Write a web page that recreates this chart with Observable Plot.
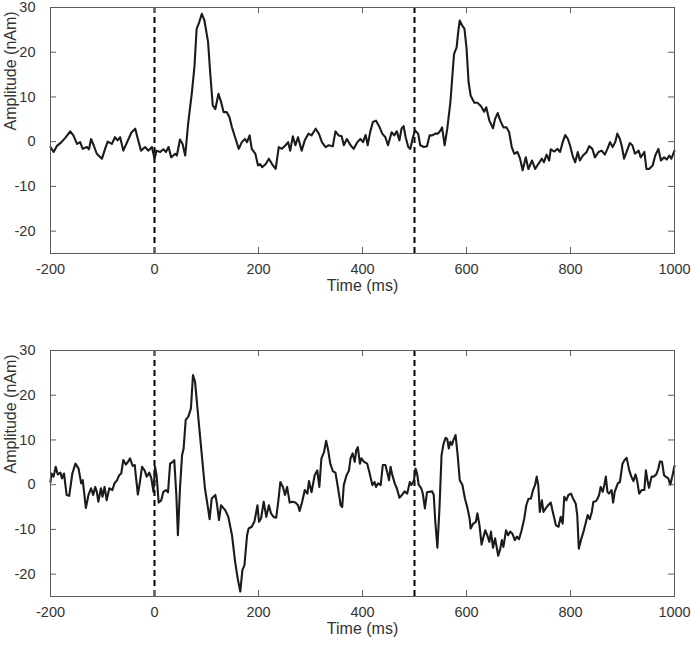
<!DOCTYPE html>
<html>
<head>
<meta charset="utf-8">
<script src="https://cdn.jsdelivr.net/npm/d3@7"></script>
<script src="https://cdn.jsdelivr.net/npm/@observablehq/plot@0.6"></script>
<style>
  html, body { margin: 0; padding: 0; background: #ffffff; }
  #chart svg { display: block; }
</style>
</head>
<body>
<div id="chart"></div>
<script>
// ---- tick labels & markers ----
const xTicks = [-200, 0, 200, 400, 600, 800, 1000];
const yTicks = [-20, -10, 0, 10, 20, 30];
const stimulusOnsets = [0, 500];
const xLabel = "Time (ms)";
const yLabel = "Amplitude (nAm)";

// ---- top panel waveform: [time (ms), amplitude (nAm)] ----
const topWave = [[-200,-1.2],[-194,-2.3],[-188,-1.0],[-179,-0.1],[-172,0.8],[-162,2.3],[-156,1.4],[-149,-0.5],[-143,-0.1],[-138,-1.6],[-130,-1.2],[-126,-1.7],[-122,0.6],[-117,-0.8],[-111,-2.7],[-101,-3.8],[-95,-1.6],[-90,0],[-82,-0.5],[-76,1.0],[-71,0.3],[-66,1.0],[-60,-2.0],[-50,0.6],[-44,2.1],[-37,2.9],[-32,0.6],[-26,-2.0],[-18,-1.2],[-12,-2.0],[-5,-1.2],[0,-3.8],[4,-2.0],[11,-2.3],[17,-1.7],[22,-2.3],[27,-1.2],[32,-3.5],[40,-2.7],[43,-3.1],[49,0.5],[54,-0.5],[59,-3.1],[65,4.4],[72,11.1],[77,17.0],[81,25.2],[86,26.7],[91,28.6],[96,27.1],[103,22.3],[107,15.6],[112,8.1],[117,7.3],[123,10.7],[128,8.9],[133,6.6],[139,6.6],[144,5.5],[149,3.2],[155,1.0],[162,-1.6],[168,-0.1],[174,0.6],[178,-0.1],[183,1.4],[187,-1.6],[194,-2.7],[199,-5.3],[203,-5.0],[207,-5.7],[214,-5.0],[220,-3.8],[226,-5.0],[233,-6.1],[239,-1.2],[245,-1.6],[252,-0.8],[257,-0.1],[261,-2.0],[266,1.2],[271,-0.8],[276,1.0],[283,-2.0],[289,0.3],[296,1.8],[302,1.4],[310,2.9],[316,1.8],[322,-0.1],[329,-1.2],[335,-0.8],[343,-1.0],[348,2.3],[354,1.4],[360,1.2],[364,-0.8],[370,0.6],[377,-0.8],[383,-1.6],[390,-0.1],[396,0.6],[401,-0.1],[406,1.5],[410,-0.8],[415,2.3],[420,4.4],[426,4.7],[433,3.2],[438,1.8],[444,1.0],[449,-0.8],[456,2.1],[461,1.4],[466,2.3],[471,0.3],[475,2.9],[479,3.5],[483,1.0],[488,-1.2],[492,-1.6],[497,1.0],[501,2.5],[507,1.8],[511,-0.8],[518,-1.2],[524,-1.0],[529,1.4],[534,1.4],[540,1.8],[545,1.8],[550,2.5],[553,3.2],[558,-0.8],[563,2.9],[569,8.8],[576,19.6],[581,21.1],[584,24.5],[587,27.1],[592,25.9],[596,25.3],[600,21.0],[604,13.3],[608,10.3],[615,8.7],[621,8.7],[628,7.9],[634,6.7],[638,7.7],[644,4.7],[651,3.0],[655,5.1],[660,6.4],[665,4.7],[671,3.2],[677,3.2],[682,2.1],[687,-1.2],[692,-2.7],[698,-2.3],[703,-3.8],[708,-6.4],[714,-3.5],[719,-6.1],[726,-4.2],[732,-6.1],[738,-5.0],[745,-3.8],[749,-4.6],[754,-2.9],[759,-4.2],[762,-1.7],[769,-2.2],[775,-1.6],[780,-2.3],[785,-0.1],[790,1.5],[795,0.6],[799,-0.8],[804,-3.1],[809,-4.6],[814,-2.3],[818,-4.2],[824,-3.1],[831,-2.3],[836,-1.0],[842,-1.6],[847,-3.5],[854,-2.3],[860,-2.0],[866,-2.9],[871,-1.6],[876,-0.1],[881,-1.2],[886,-0.1],[890,1.8],[895,0.6],[899,-1.2],[903,-3.8],[910,-1.6],[914,-0.3],[919,-0.8],[924,-2.7],[931,-2.0],[935,-3.5],[942,-2.3],[946,-6.1],[951,-6.1],[958,-5.3],[963,-3.1],[969,-1.6],[974,-4.2],[980,-3.5],[985,-4.0],[990,-3.1],[994,-3.8],[1000,-2.0]];

// ---- bottom panel waveform: [time (ms), amplitude (nAm)] ----
const bottomWave = [[-200,0.6],[-198,2.5],[-194,1.8],[-190,4.0],[-186,2.3],[-181,2.7],[-178,1.4],[-174,2.5],[-169,-2.3],[-164,-2.5],[-158,2.5],[-152,4.7],[-146,3.6],[-141,0.3],[-138,1.0],[-132,-5.2],[-127,-2.3],[-122,-0.8],[-118,-2.3],[-114,-0.5],[-111,-1.6],[-108,-3.8],[-103,-0.8],[-100,-2.7],[-96,-0.5],[-92,-3.5],[-87,-0.8],[-81,-1.2],[-77,0.3],[-72,1.0],[-68,2.1],[-64,2.5],[-60,5.5],[-55,4.5],[-51,5.1],[-47,5.9],[-42,4.2],[-38,4.4],[-36,2.1],[-32,-2.2],[-28,0.6],[-24,4.0],[-19,3.2],[-15,1.8],[-10,2.7],[-6,1.4],[-2,-1.6],[1,4.0],[4,2.1],[8,-4.0],[13,-3.5],[17,-1.6],[22,-1.2],[26,-1.7],[30,4.7],[35,5.1],[38,5.5],[42,-2.3],[45,-11.3],[49,-0.8],[53,6.6],[56,8.1],[60,14.5],[65,15.2],[70,17.0],[74,24.5],[78,23.0],[85,14.1],[91,6.6],[97,-0.8],[103,-5.3],[106,-7.7],[110,-3.1],[117,-2.3],[120,-4.2],[124,-7.9],[128,-4.6],[133,-5.3],[136,-5.7],[142,-7.2],[149,-11.3],[155,-17.2],[160,-21.0],[165,-23.9],[169,-19.1],[173,-18.0],[178,-11.3],[181,-9.8],[187,-9.4],[192,-8.3],[195,-6.5],[198,-4.6],[201,-8.3],[205,-7.5],[210,-3.8],[215,-7.2],[220,-4.6],[224,-6.4],[229,-7.2],[234,-7.4],[238,-3.8],[242,0.6],[247,-0.5],[251,-2.3],[255,-0.5],[260,-4.0],[265,-3.8],[271,-4.0],[276,-4.6],[279,-5.9],[284,-3.8],[289,-1.2],[294,-2.0],[297,0.8],[302,-1.7],[308,2.1],[313,3.2],[317,-0.5],[321,5.9],[326,7.3],[330,9.8],[334,7.7],[338,4.7],[343,3.0],[348,2.7],[353,-0.8],[358,-4.6],[361,-5.0],[364,-0.1],[369,2.0],[374,3.2],[377,5.9],[381,7.0],[385,5.1],[388,7.7],[391,8.4],[395,4.7],[398,5.9],[403,5.1],[409,4.7],[413,2.9],[419,-0.1],[423,0.6],[426,-0.5],[430,0.3],[435,-0.1],[439,4.4],[444,4.4],[449,2.1],[451,1.0],[454,4.0],[457,2.3],[462,0.3],[466,-0.8],[471,-2.9],[476,-2.3],[481,-1.5],[486,-2.0],[491,0.6],[494,-0.1],[499,1.0],[502,3.6],[505,2.5],[508,0.0],[513,-0.8],[516,-2.0],[520,-5.3],[524,-1.7],[529,-1.6],[534,-1.5],[537,-2.3],[540,-8.3],[544,-14.1],[548,-5.3],[552,6.6],[556,9.2],[560,10.5],[563,10.2],[566,8.1],[569,9.6],[572,8.9],[575,10.0],[579,11.1],[583,6.6],[587,1.0],[592,0.0],[597,-3.1],[602,-5.3],[606,-7.6],[608,-9.8],[613,-8.7],[618,-8.3],[621,-6.4],[625,-9.1],[629,-13.4],[632,-12.0],[636,-10.2],[640,-11.3],[644,-12.8],[647,-10.5],[651,-14.1],[655,-12.0],[661,-15.9],[665,-14.3],[668,-12.4],[671,-13.9],[676,-10.2],[680,-11.3],[684,-10.5],[688,-10.9],[693,-12.4],[697,-11.6],[701,-12.2],[706,-10.2],[711,-7.6],[715,-4.6],[719,-3.2],[724,-3.1],[728,-1.2],[732,0.0],[735,1.8],[738,-0.1],[741,-6.1],[745,-3.5],[748,-6.1],[753,-5.2],[757,-4.6],[762,-4.0],[766,-6.1],[772,-9.1],[777,-9.4],[781,-7.2],[785,-8.7],[788,-2.7],[792,-3.5],[796,-2.3],[801,-2.0],[805,-3.1],[810,-4.2],[813,-6.8],[816,-14.3],[821,-12.0],[825,-10.5],[829,-8.7],[833,-6.8],[837,-7.7],[841,-6.1],[844,-3.8],[849,-3.7],[852,-3.1],[855,-2.3],[858,-0.5],[862,-1.6],[865,-0.1],[868,1.8],[871,-1.6],[874,-2.0],[879,-1.2],[882,-4.0],[885,-1.6],[891,0.3],[895,0.6],[900,4.7],[904,5.5],[908,6.0],[913,3.2],[917,1.8],[921,0.8],[925,2.3],[928,1.0],[932,-2.0],[937,-1.2],[942,-1.2],[945,3.2],[948,1.0],[951,-0.7],[956,1.8],[960,1.8],[965,2.3],[969,3.6],[972,5.2],[976,5.1],[980,2.1],[983,1.8],[988,1.4],[992,0.0],[997,2.5],[1000,4.2]];

const AXIS = "#5c5c5c";
const TEXT = "#333333";
const FONT = "'Liberation Sans', Arial, Helvetica, sans-serif";
const PLOT_W = 691 - 50 - 17;   // inner width
const PLOT_H = 246;             // inner height
const TICK = 6;                 // inward tick length (px)
const fmt = d => String(d);     // plain hyphen minus, no thousands separator

function panel(wave, height, marginTop, marginBottom) {
  return Plot.plot({
    width: 691,
    height,
    marginLeft: 50,
    marginRight: 17,
    marginTop,
    marginBottom,
    style: { fontFamily: FONT, fontSize: "14.5px", color: TEXT, background: "#ffffff", overflow: "visible" },
    x: { domain: [-200, 1000] },
    y: { domain: [-25, 30] },
    marks: [
      Plot.ruleX(stimulusOnsets, { x: d => d, stroke: "#000000", strokeWidth: 2, strokeDasharray: "6,4" }),
      Plot.line(wave, { x: d => d[0], y: d => d[1], stroke: "#1b1b1b", strokeWidth: 2.1, strokeLinejoin: "round" }),
      Plot.frame({ stroke: AXIS, strokeWidth: 1 }),
      // inward ticks on all four sides
      Plot.tickX(xTicks, { x: d => d, stroke: AXIS, insetTop: PLOT_H - TICK }),
      Plot.tickX(xTicks, { x: d => d, stroke: AXIS, insetBottom: PLOT_H - TICK }),
      Plot.tickY(yTicks, { y: d => d, stroke: AXIS, insetRight: PLOT_W - TICK }),
      Plot.tickY(yTicks, { y: d => d, stroke: AXIS, insetLeft: PLOT_W - TICK }),
      // tick labels
      Plot.axisX({ anchor: "bottom", ticks: xTicks, tickSize: 0, tickPadding: 10, tickFormat: fmt, label: null, fill: TEXT, fontSize: 14.5 }),
      Plot.axisY({ anchor: "left", ticks: yTicks, tickSize: 0, tickPadding: 15, tickFormat: fmt, label: null, fill: TEXT, fontSize: 14.5 }),
      // axis titles
      Plot.text([xLabel], { text: d => d, frameAnchor: "bottom", dy: 37, fontSize: 16, fill: TEXT }),
      Plot.text([yLabel], { text: d => d, frameAnchor: "left", dx: -40, rotate: -90, fontSize: 16, fill: TEXT })
    ]
  });
}

const chart = document.getElementById("chart");
chart.appendChild(panel(topWave, 300, 7, 47));
chart.appendChild(panel(bottomWave, 345, 50, 49));
</script>
</body>
</html>
